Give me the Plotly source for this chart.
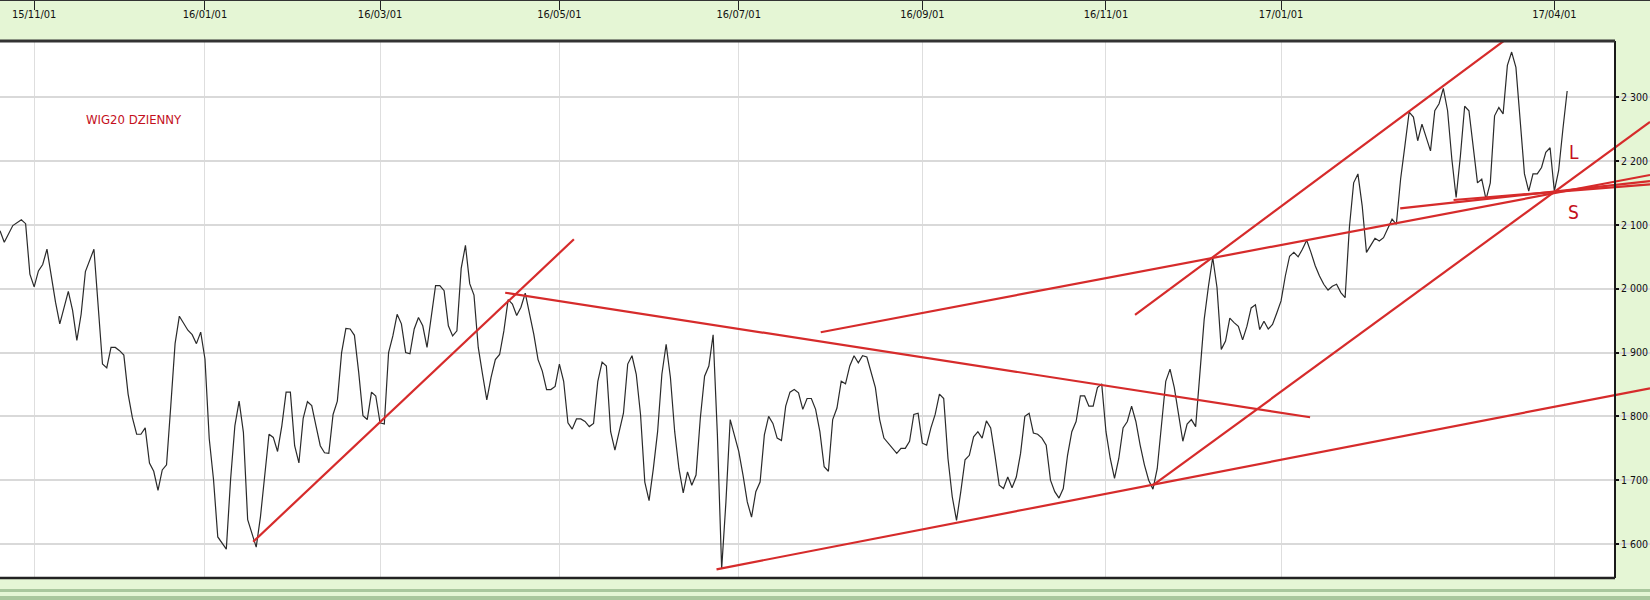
import plotly.graph_objects as go

# ---------------- data ----------------
session = [0, 1, 3, 5, 6, 7, 8, 9, 10, 11, 13, 14, 16, 17, 18, 19, 20, 21, 22, 24,
           25, 26, 27, 28, 29, 30, 31, 32, 33, 34, 35, 36, 37, 38, 39, 40, 41, 42, 44, 45,
           46, 47, 48, 49, 50, 51, 52, 53, 54, 55, 56, 57, 58, 59, 60, 61, 62, 63, 64, 65,
           66, 67, 68, 69, 70, 71, 72, 73, 74, 75, 76, 77, 78, 79, 80, 81, 82, 83, 84, 85,
           86, 87, 88, 89, 90, 91, 92, 93, 94, 95, 96, 97, 98, 99, 100, 102, 103, 104, 105, 106,
           107, 108, 109, 110, 111, 112, 113, 114, 115, 116, 117, 118, 119, 120, 121, 122, 123, 124, 125, 126,
           127, 128, 129, 130, 131, 132, 133, 134, 135, 136, 137, 138, 139, 140, 141, 142, 143, 144, 145, 146,
           147, 148, 149, 150, 151, 152, 153, 154, 155, 156, 157, 158, 159, 160, 161, 162, 163, 164, 165, 166,
           167, 168, 169, 170, 171, 172, 173, 174, 175, 176, 177, 178, 179, 180, 181, 182, 183, 184, 185, 186,
           187, 188, 189, 190, 191, 192, 193, 194, 195, 196, 197, 198, 199, 200, 201, 202, 203, 205, 206, 207,
           208, 209, 210, 211, 212, 213, 214, 215, 216, 217, 218, 219, 220, 221, 222, 223, 224, 225, 226, 227,
           228, 229, 230, 231, 232, 233, 234, 235, 236, 237, 238, 239, 240, 241, 242, 243, 244, 245, 246, 247,
           248, 249, 250, 251, 252, 253, 254, 255, 256, 257, 258, 259, 260, 261, 262, 263, 264, 265, 266, 267,
           268, 269, 270, 271, 272, 273, 274, 275, 276, 277, 278, 279, 280, 281, 282, 283, 284, 285, 286, 287,
           288, 289, 290, 291, 292, 293, 294, 295, 296, 297, 298, 299, 300, 301, 302, 303, 304, 305, 306, 307,
           308, 309, 310, 311, 312, 313, 314, 315, 316, 317, 318, 319, 320, 322, 323, 324, 325, 326, 327, 328,
           329, 330, 331, 332, 333, 334, 335, 336, 337, 338, 339, 340, 341, 342, 343, 344, 345, 346, 347, 348,
           349, 350, 351, 352, 353, 354, 355, 356, 357, 358, 359, 360, 361, 362, 363, 364, 365, 366, 367]

close = [2091, 2073, 2099, 2108, 2102, 2023, 2003, 2028, 2038, 2062, 1979, 1945, 1996, 1966, 1919, 1960, 2027, 2044, 2062, 1882,
         1876, 1908, 1908, 1903, 1896, 1835, 1798, 1772, 1772, 1782, 1727, 1714, 1684, 1716, 1724, 1817, 1914, 1957, 1935, 1928,
         1914, 1932, 1890, 1765, 1701, 1611, 1601, 1592, 1701, 1785, 1824, 1775, 1638, 1617, 1595, 1643, 1711, 1772, 1767, 1745,
         1785, 1838, 1838, 1754, 1727, 1797, 1823, 1817, 1785, 1754, 1743, 1742, 1803, 1824, 1900, 1938, 1937, 1927, 1869, 1801,
         1795, 1838, 1832, 1790, 1788, 1900, 1926, 1960, 1945, 1900, 1898, 1937, 1955, 1942, 1908, 2005, 2005, 1997, 1942, 1926,
         1934, 2032, 2068, 2008, 1990, 1908, 1866, 1826, 1861, 1889, 1897, 1934, 1983, 1976, 1958, 1971, 1993, 1961, 1929, 1889,
         1871, 1842, 1842, 1847, 1882, 1855, 1790, 1780, 1796, 1796, 1792, 1784, 1789, 1855, 1885, 1879, 1776, 1747, 1774, 1805,
         1882, 1895, 1866, 1803, 1697, 1668, 1718, 1776, 1866, 1913, 1861, 1776, 1718, 1680, 1713, 1692, 1708, 1797, 1863, 1879,
         1928, 1771, 1561, 1666, 1795, 1771, 1745, 1708, 1666, 1642, 1682, 1697, 1771, 1800, 1789, 1766, 1762, 1816, 1838, 1842,
         1837, 1811, 1828, 1828, 1811, 1776, 1721, 1714, 1795, 1813, 1855, 1851, 1879, 1895, 1884, 1895, 1893, 1845, 1795, 1766,
         1758, 1750, 1742, 1750, 1750, 1761, 1803, 1805, 1758, 1755, 1782, 1803, 1835, 1828, 1734, 1674, 1637, 1682, 1732, 1739,
         1768, 1776, 1766, 1793, 1782, 1739, 1692, 1687, 1705, 1688, 1705, 1742, 1800, 1805, 1774, 1772, 1766, 1755, 1700, 1682,
         1672, 1687, 1739, 1776, 1792, 1832, 1832, 1816, 1816, 1845, 1851, 1776, 1734, 1703, 1734, 1782, 1792, 1816, 1792, 1755,
         1724, 1700, 1686, 1718, 1782, 1855, 1874, 1845, 1803, 1761, 1788, 1795, 1784, 1866, 1952, 2004, 2049, 2002, 1905, 1918,
         1954, 1947, 1941, 1920, 1941, 1970, 1975, 1936, 1949, 1937, 1944, 1962, 1981, 2020, 2051, 2057, 2050, 2062, 2076, 2057,
         2036, 2020, 2007, 1998, 2004, 2007, 1994, 1986, 2096, 2166, 2180, 2130, 2057, 2079, 2075, 2080, 2096, 2109, 2101, 2172,
         2224, 2277, 2269, 2232, 2258, 2237, 2216, 2279, 2290, 2314, 2279, 2203, 2143, 2208, 2286, 2279, 2224, 2166, 2172, 2140,
         2166, 2271, 2284, 2274, 2350, 2371, 2347, 2261, 2180, 2153, 2180, 2180, 2190, 2214, 2221, 2153, 2185, 2250, 2310]

tick_sessions = [8, 48, 89, 131, 173, 216, 259, 300, 364]
tick_labels = ["15/11/01", "16/01/01", "16/03/01", "16/05/01", "16/07/01",
               "16/09/01", "16/11/01", "17/01/01", "17/04/01"]
price_ticks = [1600, 1700, 1800, 1900, 2000, 2100, 2200, 2300]

# trend lines: (session start, session end) and (value start, value end)
trend_x = [[59.3, 134.4], [118.3, 306.8], [167.8, 386.4], [192.2, 386.4],
           [327.9, 386.4], [340.4, 386.4], [270.1, 386.4], [265.8, 358.3]]
trend_y = [[1603.6, 2077.5], [1993.8, 1798.6], [1560.3, 1844.0], [1931.8, 2178.3],
           [2126.1, 2168.6], [2139.1, 2163.7], [1692.5, 2261.4], [1958.9, 2418.9]]

title_text = "WIG20 DZIENNY"
labels_text = ["L", "S"]
labels_pos = [[368.6, 2214], [368.4, 2120]]

# ---------------- styling ----------------
GREEN = "#e5f6d5"
RED = "#d62b2b"
TXT_RED = "#c4101c"
NARROW = "DejaVu Sans Condensed, Liberation Sans Narrow, Arial Narrow, sans-serif"
X_RANGE = [0, 386.4]
Y_RANGE = [1546.7, 2388.3]
Y_TOP = 0.92907
RIGHT = 0.97879

fig = go.Figure()
fig.add_trace(go.Scatter(x=session, y=close, mode="lines",
                         line=dict(color="#2a2a2a", width=1.2), hoverinfo="skip"))
for tx, ty in zip(trend_x, trend_y):
    fig.add_trace(go.Scatter(x=tx, y=ty, mode="lines",
                             line=dict(color=RED, width=2.2), hoverinfo="skip"))

fig.add_annotation(x=31.4, y=2266, text=title_text, showarrow=False,
                   font=dict(family=NARROW, size=13, color=TXT_RED))
for t, (ax_, ay_) in zip(labels_text, labels_pos):
    fig.add_annotation(x=ax_, y=ay_, text=t, showarrow=False,
                       font=dict(family=NARROW, size=19, color=TXT_RED))

shapes = [
    dict(type="rect", xref="paper", yref="paper", x0=RIGHT, x1=1.0, y0=0, y1=Y_TOP,
         fillcolor=GREEN, line=dict(width=0), layer="between"),
    dict(type="line", xref="paper", yref="paper", x0=0, x1=RIGHT, y0=Y_TOP, y1=Y_TOP,
         line=dict(color="#333333", width=3)),
    dict(type="line", xref="paper", yref="paper", x0=0, x1=RIGHT, y0=0, y1=0,
         line=dict(color="#222222", width=2.5)),
    dict(type="rect", xref="paper", yref="paper", x0=0, x1=1, y0=-0.0242, y1=-0.0190,
         fillcolor="#a9c79d", line=dict(width=0)),
    dict(type="rect", xref="paper", yref="paper", x0=0, x1=1, y0=-0.0381, y1=-0.0311,
         fillcolor="#a9c79d", line=dict(width=0)),
]

fig.update_layout(
    width=1650, height=600,
    margin=dict(l=0, r=0, t=0, b=22, autoexpand=False),
    paper_bgcolor=GREEN, plot_bgcolor="white",
    showlegend=False, separators=". ",
    shapes=shapes,
    xaxis=dict(range=X_RANGE, domain=[0, 1], side="top", anchor="free", position=1,
               automargin=False,
               tickmode="array", tickvals=tick_sessions, ticktext=tick_labels,
               ticks="inside", ticklen=9, tickwidth=1, tickcolor="#222",
               ticklabelposition="inside",
               tickfont=dict(family=NARROW, size=11, color="#111"),
               showgrid=True, gridcolor="#dedede", gridwidth=1,
               showline=True, linecolor="#333", linewidth=2, zeroline=False),
    yaxis=dict(range=Y_RANGE, domain=[0, Y_TOP], side="right", anchor="free", position=RIGHT,
               automargin=False,
               tickmode="array", tickvals=price_ticks, tickformat=",d",
               ticks="outside", ticklen=3, tickwidth=1.5, tickcolor="#111",
               tickfont=dict(family=NARROW, size=10.5, color="#111"),
               showgrid=True, gridcolor="#d9d9d9", gridwidth=2,
               showline=True, linecolor="#1a1a1a", linewidth=2, zeroline=False),
)

fig.write_html("out.html", config={"displayModeBar": False},
               post_script="document.body.style.margin='0px';document.body.style.overflow='hidden';")
